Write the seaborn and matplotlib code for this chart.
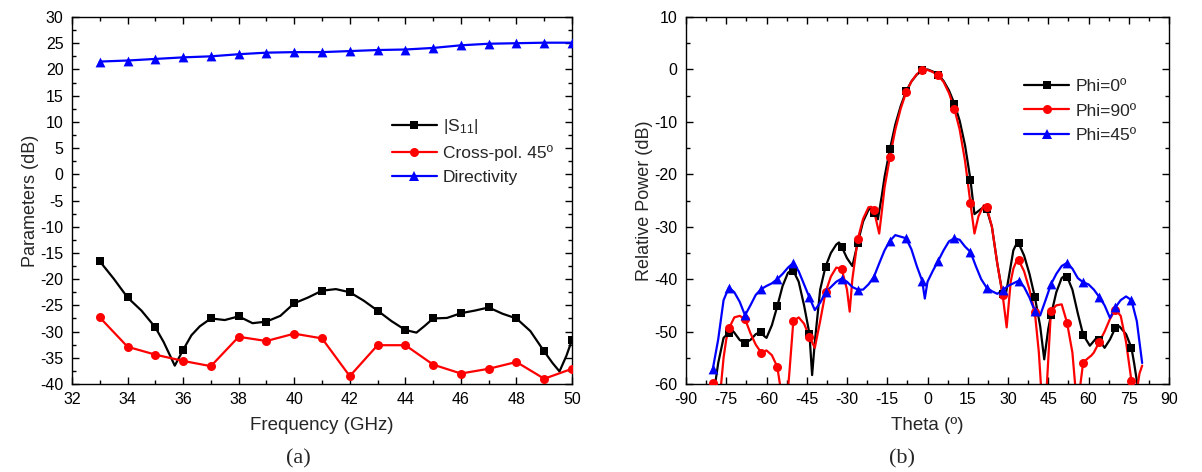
import numpy as np
import pandas as pd
import matplotlib
matplotlib.use("Agg")
import matplotlib.pyplot as plt
import seaborn as sns
from matplotlib.lines import Line2D
from matplotlib.ticker import MultipleLocator

# ---------------- data: panel (a) ----------------
freq_s11 = [33, 33.5, 34, 34.5, 35, 35.3, 35.7, 36, 36.3, 36.6, 37, 37.5, 38, 38.5, 39, 39.5,
            40, 40.5, 41, 41.5, 42, 42.5, 43, 43.5, 44, 44.4, 44.7, 45, 45.5, 46, 46.5, 47,
            47.5, 48, 48.5, 49, 49.3, 49.55, 49.8, 50]
s11_db = [-16.6, -19.9, -23.5, -26.0, -29.2, -32.0, -36.5, -33.5, -30.7, -29.0, -27.5, -27.8,
          -27.1, -28.4, -28.1, -27.0, -24.6, -23.5, -22.2, -21.9, -22.5, -24.1, -26.0, -28.0,
          -29.7, -30.2, -28.9, -27.5, -27.4, -26.5, -26.0, -25.4, -26.6, -27.5, -29.9, -33.8,
          -36.0, -37.6, -34.6, -31.6]
freq = [33, 34, 35, 36, 37, 38, 39, 40, 41, 42, 43, 44, 45, 46, 47, 48, 49, 50]
crosspol_db = [-27.3, -32.9, -34.4, -35.6, -36.6, -31.0, -31.8, -30.4, -31.3, -38.5, -32.6,
               -32.6, -36.3, -38.0, -37.1, -35.8, -39.0, -37.1]
directivity_db = [21.5, 21.7, 22.0, 22.3, 22.5, 22.9, 23.2, 23.3, 23.3, 23.5, 23.7, 23.8,
                  24.1, 24.6, 24.9, 25.0, 25.1, 25.1]

# ---------------- data: panel (b) ----------------
theta_phi0 = [-80, -79, -78, -76, -74, -73, -72, -70, -68, -66, -64, -62, -61, -60, -58, -56,
              -54, -52, -50.5, -50, -48, -46, -44, -43, -42, -40, -38, -36, -34, -33, -32, -30,
              -28, -26, -24, -22, -21, -20, -18.5, -17, -16, -14, -12, -10, -8, -6, -4, -2, 0,
              2, 4, 6, 8, 10, 12, 14, 16, 17.5, 19, 21, 22, 24, 26, 28, 29, 30, 32, 33.5, 34,
              36, 38, 40, 42, 43.5, 45, 46, 48, 50, 51.5, 52, 54, 56, 58, 60.5, 63, 64, 66, 68,
              70, 71.5, 74, 76, 77, 78.5]
power_phi0 = [-64, -59.5, -56, -51.2, -50.2, -49.6, -50.2, -51.6, -52.2, -51.6, -50.5, -50.0,
              -50.8, -51.2, -48.8, -45.2, -41.3, -38.8, -38.2, -38.4, -40.5, -45.0, -50.4, -58.3,
              -52.0, -42.0, -37.6, -35.0, -33.4, -33.0, -33.8, -36.0, -37.5, -33.1, -29.0, -26.8,
              -26.5, -27.4, -28.6, -24.0, -20.5, -15.2, -10.5, -7.0, -4.2, -2.3, -1.0, -0.2, 0.0,
              -0.4, -1.0, -2.2, -4.0, -6.5, -9.8, -14.5, -21.0, -27.6, -27.0, -26.2, -26.6, -30.0,
              -37.0, -42.9, -43.4, -40.5, -34.5, -32.9, -33.2, -35.5, -39.0, -43.4, -49.0, -55.3,
              -49.5, -46.9, -42.5, -39.8, -39.2, -39.5, -42.0, -46.5, -50.6, -52.7, -51.2, -51.6,
              -53.1, -51.5, -49.3, -49.0, -50.5, -53.1, -56.0, -61.0]

theta_phi90 = [-80, -78.5, -77, -76, -75, -74, -72, -70, -68, -66, -64, -62, -60, -58, -56, -55,
               -54, -52.5, -51.5, -50, -48, -46, -44, -42, -40, -38, -36, -34, -32, -30, -29,
               -28, -26, -24, -22, -21, -20, -18, -17, -16, -14, -12, -10, -8, -6, -4, -2, 0, 2,
               4, 6, 8, 10, 12, 14, 16, 17.5, 19, 21, 22, 24, 26, 28, 29.5, 31, 32, 33.5, 34, 36,
               38, 40, 41.5, 42.5, 44, 44.5, 46, 48, 50, 52, 54, 55, 56, 57, 58, 60, 61, 62, 64,
               66, 68, 70, 72, 74, 76, 77.5, 79, 80]
power_phi90 = [-59.8, -63, -60.5, -55, -51.5, -49.4, -47.3, -47.0, -47.6, -50.3, -52.5, -54.0,
               -53.6, -54.5, -56.7, -60, -64, -64, -58, -48.0, -47.3, -48.5, -51.0, -53.1, -48.0,
               -42.5, -39.5, -37.8, -38.0, -42.0, -46.2, -40.0, -32.4, -28.5, -26.3, -26.2, -26.8,
               -31.3, -27.0, -22.5, -16.7, -11.5, -7.5, -4.4, -2.3, -0.9, -0.2, -0.1, -0.5, -1.1,
               -2.4, -4.5, -7.5, -11.5, -17.5, -25.5, -31.3, -28.0, -25.9, -26.2, -30.0, -37.0,
               -43.0, -49.2, -40.5, -38.0, -36.1, -36.4, -38.5, -42.0, -46.3, -54.0, -62.0, -62.0,
               -60.0, -46.1, -45.0, -44.8, -48.3, -54.0, -60.0, -65.0, -60.0, -55.9, -55.0, -54.6,
               -54.0, -52.0, -50.0, -47.6, -45.8, -47.0, -52.0, -59.4, -63.0, -58.0, -56.5]

theta_phi45 = [-80, -78, -76, -74, -72, -70, -68, -66, -64, -62, -60, -58, -56, -54, -52, -50,
               -48, -46, -44, -42, -40, -38, -36, -34, -32, -30, -28, -26, -24, -22, -20, -18,
               -16, -14, -12, -10, -8, -6, -4, -2, -1, 0, 2, 4, 6, 8, 10, 12, 14, 16, 18, 20, 22,
               24, 26, 28, 30, 32, 34, 36, 38, 40, 42, 44, 46, 48, 50, 52, 54, 56, 58, 60, 62, 64,
               66, 68, 70, 72, 74, 76, 78, 80]
power_phi45 = [-57.1, -51.5, -44.0, -41.6, -42.5, -44.3, -46.9, -45.0, -43.0, -41.9, -41.3,
               -40.8, -40.0, -39.0, -37.8, -36.9, -38.5, -41.0, -43.5, -45.9, -44.5, -42.5, -41.5,
               -40.5, -39.9, -40.5, -41.5, -42.0, -42.0, -41.0, -39.6, -37.0, -34.5, -32.7, -31.6,
               -31.9, -32.2, -34.3, -37.5, -40.3, -43.7, -40.5, -38.4, -36.5, -34.5, -32.8, -32.2,
               -32.5, -33.8, -34.8, -37.5, -40.0, -41.6, -42.3, -42.8, -42.1, -41.3, -40.8, -40.3,
               -41.5, -43.5, -46.1, -46.9, -44.0, -41.0, -39.0, -37.5, -36.9, -38.0, -39.8, -40.6,
               -41.0, -42.0, -43.4, -45.0, -47.4, -45.4, -44.0, -43.3, -44.0, -48.0, -56.0]

left_labels = [r"|S$_{11}$|", "Cross-pol. 45º", "Directivity"]
right_labels = ["Phi=0º", "Phi=90º", "Phi=45º"]

# ---------------- style ----------------
sns.set_theme(style="ticks")
plt.rcParams["font.family"] = ["Liberation Sans", "DejaVu Sans"]
plt.rcParams["mathtext.fontset"] = "custom"
plt.rcParams["mathtext.rm"] = "Liberation Sans"
plt.rcParams["mathtext.it"] = "Liberation Sans"
plt.rcParams["axes.unicode_minus"] = False

BLACK, RED, BLUE = "#000000", "#ff0000", "#0000ff"
LW = 1.6

fig = plt.figure(figsize=(12.02, 4.72), dpi=100)
W, H = 1202, 472
ax1 = fig.add_axes([72 / W, 88 / H, 500 / W, 367 / H])
ax2 = fig.add_axes([686 / W, 88 / H, 483 / W, 367 / H])


def draw(ax, x, y, color, marker, mask, size):
    df = pd.DataFrame({"x": np.asarray(x, float), "y": np.asarray(y, float)})
    sns.lineplot(data=df, x="x", y="y", ax=ax, color=color, lw=LW, sort=False,
                 estimator=None, zorder=2)
    sns.scatterplot(data=df[mask(df["x"].values)], x="x", y="y", ax=ax, color=color,
                    marker=marker, s=size, linewidth=0, zorder=3)


is_int = lambda v: np.isclose(np.mod(v, 1.0), 0)
on_grid = lambda v: np.isclose(np.mod(v + 80, 6.0), 0) | np.isclose(np.mod(v + 80, 6.0), 6.0)
every = lambda v: np.ones(len(v), bool)

# panel (a)
draw(ax1, freq_s11, s11_db, BLACK, "s", is_int, 30)
draw(ax1, freq, crosspol_db, RED, "o", every, 42)
draw(ax1, freq, directivity_db, BLUE, "^", every, 50)

# panel (b)
draw(ax2, theta_phi0, power_phi0, BLACK, "s", on_grid, 30)
draw(ax2, theta_phi90, power_phi90, RED, "o", on_grid, 42)
draw(ax2, theta_phi45, power_phi45, BLUE, "^", on_grid, 50)

ax1.set_xlim(32, 50)
ax1.set_ylim(-40, 30)
ax1.xaxis.set_major_locator(MultipleLocator(2))
ax1.xaxis.set_minor_locator(MultipleLocator(1))
ax1.yaxis.set_major_locator(MultipleLocator(5))
ax1.yaxis.set_minor_locator(MultipleLocator(2.5))

ax2.set_xlim(-90, 90)
ax2.set_ylim(-60, 10)
ax2.xaxis.set_major_locator(MultipleLocator(15))
ax2.xaxis.set_minor_locator(MultipleLocator(7.5))
ax2.yaxis.set_major_locator(MultipleLocator(10))
ax2.yaxis.set_minor_locator(MultipleLocator(5))

for ax in (ax1, ax2):
    for sp in ax.spines.values():
        sp.set_visible(True)
        sp.set_linewidth(1.0)
        sp.set_color("black")
    ax.tick_params(which="both", direction="in", top=True, right=True, colors="black",
                   labelsize=11.5, width=1.0)
    ax.tick_params(which="major", length=5, pad=6)
    ax.tick_params(which="minor", length=3)
    ax.grid(False)

ax1.set_xlabel("Frequency (GHz)", fontsize=13.5, labelpad=7)
ax1.set_ylabel("Parameters (dB)", fontsize=13, labelpad=1)
ax2.set_xlabel("Theta (º)", fontsize=13.5, labelpad=7)
ax2.set_ylabel("Relative Power (dB)", fontsize=13, labelpad=1)

def handles(specs):
    return [Line2D([0], [0], color=c, lw=LW, marker=m, markersize=ms, markeredgewidth=0)
            for c, m, ms in specs]

ax1.legend(handles(((BLACK, "s", 5.5), (RED, "o", 6.5), (BLUE, "^", 7))), left_labels,
           loc="upper left", bbox_to_anchor=(0.615, 0.76), frameon=False, fontsize=12.5,
           handlelength=2.6, handletextpad=0.35, labelspacing=0.5, borderpad=0.2)
ax2.legend(handles(((BLACK, "s", 5.5), (RED, "o", 6.5), (BLUE, "^", 7))), right_labels,
           loc="upper left", bbox_to_anchor=(0.675, 0.865), frameon=False, fontsize=12.5,
           handlelength=2.6, handletextpad=0.35, labelspacing=0.55, borderpad=0.2)

fig.text(298 / W, 1 - 459 / H, "(a)", ha="center", va="center", fontsize=16,
         family=["Liberation Serif", "DejaVu Serif"])
fig.text(902 / W, 1 - 459 / H, "(b)", ha="center", va="center", fontsize=16,
         family=["Liberation Serif", "DejaVu Serif"])

fig.savefig("out.png", dpi=100, facecolor="white")
